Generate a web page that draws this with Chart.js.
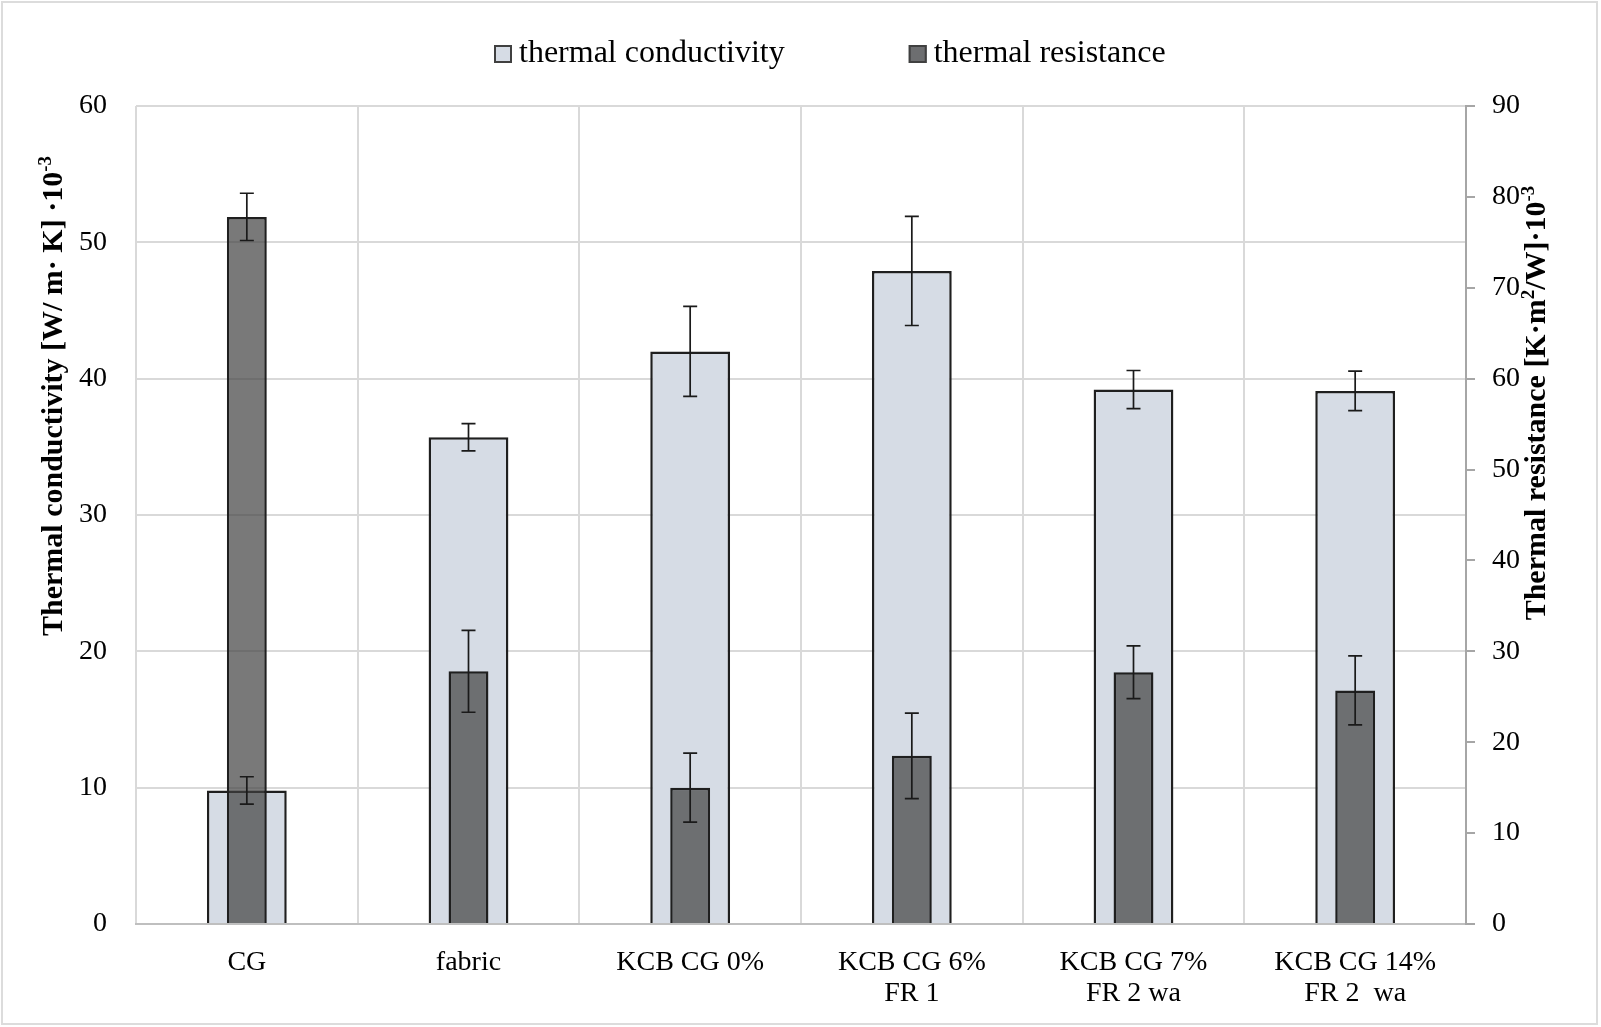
<!DOCTYPE html>
<html>
<head>
<meta charset="utf-8">
<title>Thermal conductivity and thermal resistance</title>
<script src="https://cdn.jsdelivr.net/npm/chart.js@4.4.0/dist/chart.umd.min.js"></script>
<style>
    html, body { margin: 0; padding: 0; background: #fff; }
    #wrap { position: relative; width: 1601px; height: 1027px; }
    #frame { position: absolute; left: 1px; top: 1px; width: 1593px; height: 1020px;
             border: 2px solid #dcdcdc; pointer-events: none; }
</style>
</head>
<body>
<div id="wrap">
    <canvas id="thermalChart" width="1601" height="1027"></canvas>
    <div id="frame"></div>
</div>
<script>
// Data
const categories = ['CG', 'fabric', 'KCB CG 0%', ['KCB CG 6%', 'FR 1'], ['KCB CG 7%', 'FR 2 wa'], ['KCB CG 14%', 'FR 2  wa']];
const conductivity = [9.8, 35.7, 42.0, 47.9, 39.2, 39.1];
const conductivityErr = [1.0, 1.0, 3.3, 4.0, 1.4, 1.45];
const resistance = [77.8, 27.8, 15.0, 18.5, 27.7, 25.7];
const resistanceErr = [2.6, 4.5, 3.8, 4.7, 2.9, 3.8];
const leftTicks = [0, 60, 10];   // min, max, step
const rightTicks = [0, 90, 10];

const SERIF = '"Liberation Serif", "Times New Roman", serif';

// Error bars, drawn through each dataset's own y scale
const errorBars = {
    id: 'errorBars',
    afterDatasetsDraw(chart) {
        const ctx = chart.ctx;
        chart.data.datasets.forEach((ds, i) => {
            if (!ds.errors) return;
            const meta = chart.getDatasetMeta(i);
            const scale = chart.scales[meta.yAxisID];
            ctx.save();
            ctx.strokeStyle = '#1a1a1a';
            ctx.lineWidth = 1.7;
            meta.data.forEach((bar, j) => {
                const v = ds.data[j], e = ds.errors[j];
                const yHi = scale.getPixelForValue(v + e);
                const yLo = scale.getPixelForValue(v - e);
                const cap = 7;
                ctx.beginPath();
                ctx.moveTo(bar.x, yHi); ctx.lineTo(bar.x, yLo);
                ctx.moveTo(bar.x - cap, yHi); ctx.lineTo(bar.x + cap, yHi);
                ctx.moveTo(bar.x - cap, yLo); ctx.lineTo(bar.x + cap, yLo);
                ctx.stroke();
            });
            ctx.restore();
        });
    }
};

// Legend laid out like the original (wide gap between the two items)
const topLegend = {
    id: 'topLegend',
    afterDraw(chart) {
        const ctx = chart.ctx;
        let x = 494;
        const yBase = 62, box = 18;
        ctx.save();
        ctx.font = '32px ' + SERIF;
        ctx.textBaseline = 'alphabetic';
        chart.data.datasets.forEach(ds => {
            ctx.fillStyle = ds.legendFill || ds.backgroundColor;
            ctx.fillRect(x, 45, box, box);
            ctx.strokeStyle = '#404040';
            ctx.lineWidth = 2;
            ctx.strokeRect(x + 1, 46, box - 2, box - 2);
            ctx.fillStyle = '#000';
            ctx.fillText(ds.label, x + box + 7, yBase);
            x += box + 7 + ctx.measureText(ds.label).width + 124;
        });
        ctx.restore();
    }
};

// Rotated axis titles with real superscripts
function drawRotatedTitle(ctx, parts, cx, cy) {
    const big = 'bold 30px ' + SERIF, small = 'bold 19px ' + SERIF;
    ctx.save();
    ctx.translate(cx, cy);
    ctx.rotate(-Math.PI / 2);
    ctx.fillStyle = '#000';
    ctx.textBaseline = 'alphabetic';
    let total = 0;
    parts.forEach(p => { ctx.font = p.sup ? small : big; total += ctx.measureText(p.t).width; });
    let x = -total / 2;
    parts.forEach(p => {
        ctx.font = p.sup ? small : big;
        ctx.fillText(p.t, x, p.sup ? -1 : 10);
        x += ctx.measureText(p.t).width;
    });
    ctx.restore();
}

const axisTitles = {
    id: 'axisTitles',
    afterDraw(chart) {
        const ctx = chart.ctx;
        drawRotatedTitle(ctx, [
            { t: 'Thermal conductivity [W/ m· K] ·10' }, { t: '-3', sup: true }
        ], 52, 396);
        drawRotatedTitle(ctx, [
            { t: 'Thermal resistance [K·m' }, { t: '2', sup: true }, { t: '/W]·10' }, { t: '-3', sup: true }
        ], 1535, 403);
    }
};

const ctx = document.getElementById('thermalChart').getContext('2d');
new Chart(ctx, {
    type: 'bar',
    data: {
        labels: categories,
        datasets: [{
            label: 'thermal conductivity',
            data: conductivity,
            errors: conductivityErr,
            yAxisID: 'yLeft',
            backgroundColor: '#d6dce5',
            borderColor: '#1f1f1f',
            borderWidth: 2.5,
            borderSkipped: 'bottom',
            barPercentage: 0.36,
            categoryPercentage: 1,
            order: 1
        }, {
            label: 'thermal resistance',
            data: resistance,
            errors: resistanceErr,
            yAxisID: 'yRight',
            backgroundColor: 'rgba(64, 64, 64, 0.7)',
            legendFill: '#6d6e70',
            borderColor: '#1f1f1f',
            borderWidth: 2.5,
            borderSkipped: 'bottom',
            barPercentage: 0.18,
            categoryPercentage: 1,
            order: 0
        }]
    },
    options: {
        responsive: false,
        animation: false,
        devicePixelRatio: 1,
        grouped: false,
        layout: { padding: { top: 106, left: 0, right: 0, bottom: 0 } },
        plugins: {
            legend: { display: false },
            tooltip: { enabled: false }
        },
        scales: {
            x: {
                offset: true,
                grid: { offset: true, color: '#d9d9d9', lineWidth: 2, drawTicks: false },
                border: { color: '#bfbfbf', width: 2 },
                ticks: { color: '#000', font: { family: SERIF, size: 28, lineHeight: 1.1 }, padding: 23, maxRotation: 0, autoSkip: false },
                afterFit: (s) => { s.height = 103; }
            },
            yLeft: {
                position: 'left',
                min: leftTicks[0], max: leftTicks[1],
                ticks: { stepSize: leftTicks[2], color: '#000', font: { family: SERIF, size: 28 }, padding: 29 },
                grid: { color: '#d9d9d9', lineWidth: 2, drawTicks: false },
                border: { display: false },
                afterFit: (s) => { s.width = 136; }
            },
            yRight: {
                position: 'right',
                min: rightTicks[0], max: rightTicks[1],
                ticks: { stepSize: rightTicks[2], color: '#000', font: { family: SERIF, size: 28 }, padding: 17 },
                grid: { drawOnChartArea: false, drawTicks: true, tickLength: 9, color: '#a6a6a6', lineWidth: 2 },
                border: { color: '#a6a6a6', width: 2 },
                afterFit: (s) => { s.width = 135; }
            }
        }
    },
    plugins: [errorBars, topLegend, axisTitles]
});
</script>
</body>
</html>
